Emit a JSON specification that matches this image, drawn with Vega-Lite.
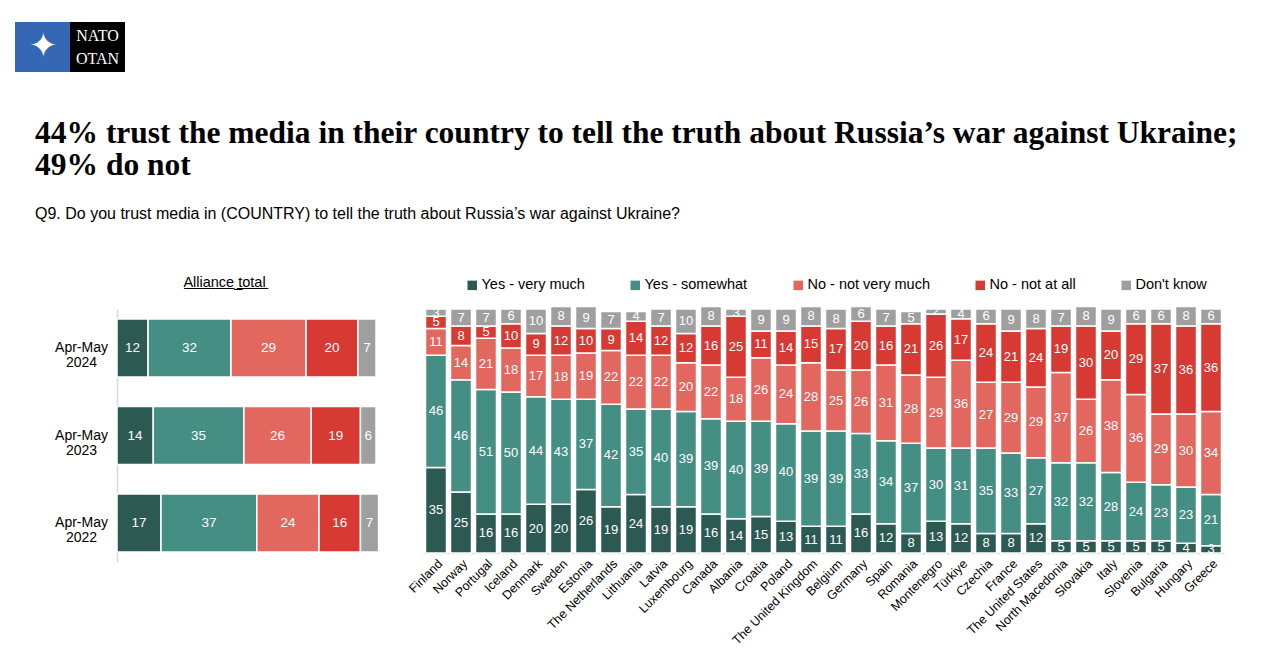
{
  "$schema": "https://vega.github.io/schema/vega-lite/v6.json",
  "background": "white",
  "padding": {"left": 15, "top": 22, "right": 5, "bottom": 5},
  "config": {"view": {"stroke": null}, "font": "Liberation Sans"},
  "datasets": {
    "alliance": [
      {"p": "Apr-May 2024", "r": "Yes - very much", "v": 12},
      {"p": "Apr-May 2024", "r": "Yes - somewhat", "v": 32},
      {"p": "Apr-May 2024", "r": "No - not very much", "v": 29},
      {"p": "Apr-May 2024", "r": "No - not at all", "v": 20},
      {"p": "Apr-May 2024", "r": "Don't know", "v": 7},
      {"p": "Apr-May 2023", "r": "Yes - very much", "v": 14},
      {"p": "Apr-May 2023", "r": "Yes - somewhat", "v": 35},
      {"p": "Apr-May 2023", "r": "No - not very much", "v": 26},
      {"p": "Apr-May 2023", "r": "No - not at all", "v": 19},
      {"p": "Apr-May 2023", "r": "Don't know", "v": 6},
      {"p": "Apr-May 2022", "r": "Yes - very much", "v": 17},
      {"p": "Apr-May 2022", "r": "Yes - somewhat", "v": 37},
      {"p": "Apr-May 2022", "r": "No - not very much", "v": 24},
      {"p": "Apr-May 2022", "r": "No - not at all", "v": 16},
      {"p": "Apr-May 2022", "r": "Don't know", "v": 7}
    ],
    "countries": [
      {"c": "Finland", "r": "Yes - very much", "v": 35}, {"c": "Finland", "r": "Yes - somewhat", "v": 46}, {"c": "Finland", "r": "No - not very much", "v": 11}, {"c": "Finland", "r": "No - not at all", "v": 5}, {"c": "Finland", "r": "Don't know", "v": 3},
      {"c": "Norway", "r": "Yes - very much", "v": 25}, {"c": "Norway", "r": "Yes - somewhat", "v": 46}, {"c": "Norway", "r": "No - not very much", "v": 14}, {"c": "Norway", "r": "No - not at all", "v": 8}, {"c": "Norway", "r": "Don't know", "v": 7},
      {"c": "Portugal", "r": "Yes - very much", "v": 16}, {"c": "Portugal", "r": "Yes - somewhat", "v": 51}, {"c": "Portugal", "r": "No - not very much", "v": 21}, {"c": "Portugal", "r": "No - not at all", "v": 5}, {"c": "Portugal", "r": "Don't know", "v": 7},
      {"c": "Iceland", "r": "Yes - very much", "v": 16}, {"c": "Iceland", "r": "Yes - somewhat", "v": 50}, {"c": "Iceland", "r": "No - not very much", "v": 18}, {"c": "Iceland", "r": "No - not at all", "v": 10}, {"c": "Iceland", "r": "Don't know", "v": 6},
      {"c": "Denmark", "r": "Yes - very much", "v": 20}, {"c": "Denmark", "r": "Yes - somewhat", "v": 44}, {"c": "Denmark", "r": "No - not very much", "v": 17}, {"c": "Denmark", "r": "No - not at all", "v": 9}, {"c": "Denmark", "r": "Don't know", "v": 10},
      {"c": "Sweden", "r": "Yes - very much", "v": 20}, {"c": "Sweden", "r": "Yes - somewhat", "v": 43}, {"c": "Sweden", "r": "No - not very much", "v": 18}, {"c": "Sweden", "r": "No - not at all", "v": 12}, {"c": "Sweden", "r": "Don't know", "v": 8},
      {"c": "Estonia", "r": "Yes - very much", "v": 26}, {"c": "Estonia", "r": "Yes - somewhat", "v": 37}, {"c": "Estonia", "r": "No - not very much", "v": 19}, {"c": "Estonia", "r": "No - not at all", "v": 10}, {"c": "Estonia", "r": "Don't know", "v": 9},
      {"c": "The Netherlands", "r": "Yes - very much", "v": 19}, {"c": "The Netherlands", "r": "Yes - somewhat", "v": 42}, {"c": "The Netherlands", "r": "No - not very much", "v": 22}, {"c": "The Netherlands", "r": "No - not at all", "v": 9}, {"c": "The Netherlands", "r": "Don't know", "v": 7},
      {"c": "Lithuania", "r": "Yes - very much", "v": 24}, {"c": "Lithuania", "r": "Yes - somewhat", "v": 35}, {"c": "Lithuania", "r": "No - not very much", "v": 22}, {"c": "Lithuania", "r": "No - not at all", "v": 14}, {"c": "Lithuania", "r": "Don't know", "v": 4},
      {"c": "Latvia", "r": "Yes - very much", "v": 19}, {"c": "Latvia", "r": "Yes - somewhat", "v": 40}, {"c": "Latvia", "r": "No - not very much", "v": 22}, {"c": "Latvia", "r": "No - not at all", "v": 12}, {"c": "Latvia", "r": "Don't know", "v": 7},
      {"c": "Luxembourg", "r": "Yes - very much", "v": 19}, {"c": "Luxembourg", "r": "Yes - somewhat", "v": 39}, {"c": "Luxembourg", "r": "No - not very much", "v": 20}, {"c": "Luxembourg", "r": "No - not at all", "v": 12}, {"c": "Luxembourg", "r": "Don't know", "v": 10},
      {"c": "Canada", "r": "Yes - very much", "v": 16}, {"c": "Canada", "r": "Yes - somewhat", "v": 39}, {"c": "Canada", "r": "No - not very much", "v": 22}, {"c": "Canada", "r": "No - not at all", "v": 16}, {"c": "Canada", "r": "Don't know", "v": 8},
      {"c": "Albania", "r": "Yes - very much", "v": 14}, {"c": "Albania", "r": "Yes - somewhat", "v": 40}, {"c": "Albania", "r": "No - not very much", "v": 18}, {"c": "Albania", "r": "No - not at all", "v": 25}, {"c": "Albania", "r": "Don't know", "v": 3},
      {"c": "Croatia", "r": "Yes - very much", "v": 15}, {"c": "Croatia", "r": "Yes - somewhat", "v": 39}, {"c": "Croatia", "r": "No - not very much", "v": 26}, {"c": "Croatia", "r": "No - not at all", "v": 11}, {"c": "Croatia", "r": "Don't know", "v": 9},
      {"c": "Poland", "r": "Yes - very much", "v": 13}, {"c": "Poland", "r": "Yes - somewhat", "v": 40}, {"c": "Poland", "r": "No - not very much", "v": 24}, {"c": "Poland", "r": "No - not at all", "v": 14}, {"c": "Poland", "r": "Don't know", "v": 9},
      {"c": "The United Kingdom", "r": "Yes - very much", "v": 11}, {"c": "The United Kingdom", "r": "Yes - somewhat", "v": 39}, {"c": "The United Kingdom", "r": "No - not very much", "v": 28}, {"c": "The United Kingdom", "r": "No - not at all", "v": 15}, {"c": "The United Kingdom", "r": "Don't know", "v": 8},
      {"c": "Belgium", "r": "Yes - very much", "v": 11}, {"c": "Belgium", "r": "Yes - somewhat", "v": 39}, {"c": "Belgium", "r": "No - not very much", "v": 25}, {"c": "Belgium", "r": "No - not at all", "v": 17}, {"c": "Belgium", "r": "Don't know", "v": 8},
      {"c": "Germany", "r": "Yes - very much", "v": 16}, {"c": "Germany", "r": "Yes - somewhat", "v": 33}, {"c": "Germany", "r": "No - not very much", "v": 26}, {"c": "Germany", "r": "No - not at all", "v": 20}, {"c": "Germany", "r": "Don't know", "v": 6},
      {"c": "Spain", "r": "Yes - very much", "v": 12}, {"c": "Spain", "r": "Yes - somewhat", "v": 34}, {"c": "Spain", "r": "No - not very much", "v": 31}, {"c": "Spain", "r": "No - not at all", "v": 16}, {"c": "Spain", "r": "Don't know", "v": 7},
      {"c": "Romania", "r": "Yes - very much", "v": 8}, {"c": "Romania", "r": "Yes - somewhat", "v": 37}, {"c": "Romania", "r": "No - not very much", "v": 28}, {"c": "Romania", "r": "No - not at all", "v": 21}, {"c": "Romania", "r": "Don't know", "v": 5},
      {"c": "Montenegro", "r": "Yes - very much", "v": 13}, {"c": "Montenegro", "r": "Yes - somewhat", "v": 30}, {"c": "Montenegro", "r": "No - not very much", "v": 29}, {"c": "Montenegro", "r": "No - not at all", "v": 26}, {"c": "Montenegro", "r": "Don't know", "v": 2},
      {"c": "Türkiye", "r": "Yes - very much", "v": 12}, {"c": "Türkiye", "r": "Yes - somewhat", "v": 31}, {"c": "Türkiye", "r": "No - not very much", "v": 36}, {"c": "Türkiye", "r": "No - not at all", "v": 17}, {"c": "Türkiye", "r": "Don't know", "v": 4},
      {"c": "Czechia", "r": "Yes - very much", "v": 8}, {"c": "Czechia", "r": "Yes - somewhat", "v": 35}, {"c": "Czechia", "r": "No - not very much", "v": 27}, {"c": "Czechia", "r": "No - not at all", "v": 24}, {"c": "Czechia", "r": "Don't know", "v": 6},
      {"c": "France", "r": "Yes - very much", "v": 8}, {"c": "France", "r": "Yes - somewhat", "v": 33}, {"c": "France", "r": "No - not very much", "v": 29}, {"c": "France", "r": "No - not at all", "v": 21}, {"c": "France", "r": "Don't know", "v": 9},
      {"c": "The United States", "r": "Yes - very much", "v": 12}, {"c": "The United States", "r": "Yes - somewhat", "v": 27}, {"c": "The United States", "r": "No - not very much", "v": 29}, {"c": "The United States", "r": "No - not at all", "v": 24}, {"c": "The United States", "r": "Don't know", "v": 8},
      {"c": "North Macedonia", "r": "Yes - very much", "v": 5}, {"c": "North Macedonia", "r": "Yes - somewhat", "v": 32}, {"c": "North Macedonia", "r": "No - not very much", "v": 37}, {"c": "North Macedonia", "r": "No - not at all", "v": 19}, {"c": "North Macedonia", "r": "Don't know", "v": 7},
      {"c": "Slovakia", "r": "Yes - very much", "v": 5}, {"c": "Slovakia", "r": "Yes - somewhat", "v": 32}, {"c": "Slovakia", "r": "No - not very much", "v": 26}, {"c": "Slovakia", "r": "No - not at all", "v": 30}, {"c": "Slovakia", "r": "Don't know", "v": 8},
      {"c": "Italy", "r": "Yes - very much", "v": 5}, {"c": "Italy", "r": "Yes - somewhat", "v": 28}, {"c": "Italy", "r": "No - not very much", "v": 38}, {"c": "Italy", "r": "No - not at all", "v": 20}, {"c": "Italy", "r": "Don't know", "v": 9},
      {"c": "Slovenia", "r": "Yes - very much", "v": 5}, {"c": "Slovenia", "r": "Yes - somewhat", "v": 24}, {"c": "Slovenia", "r": "No - not very much", "v": 36}, {"c": "Slovenia", "r": "No - not at all", "v": 29}, {"c": "Slovenia", "r": "Don't know", "v": 6},
      {"c": "Bulgaria", "r": "Yes - very much", "v": 5}, {"c": "Bulgaria", "r": "Yes - somewhat", "v": 23}, {"c": "Bulgaria", "r": "No - not very much", "v": 29}, {"c": "Bulgaria", "r": "No - not at all", "v": 37}, {"c": "Bulgaria", "r": "Don't know", "v": 6},
      {"c": "Hungary", "r": "Yes - very much", "v": 4}, {"c": "Hungary", "r": "Yes - somewhat", "v": 23}, {"c": "Hungary", "r": "No - not very much", "v": 30}, {"c": "Hungary", "r": "No - not at all", "v": 36}, {"c": "Hungary", "r": "Don't know", "v": 8},
      {"c": "Greece", "r": "Yes - very much", "v": 3}, {"c": "Greece", "r": "Yes - somewhat", "v": 21}, {"c": "Greece", "r": "No - not very much", "v": 34}, {"c": "Greece", "r": "No - not at all", "v": 36}, {"c": "Greece", "r": "Don't know", "v": 6}
    ]
  },
  "spacing": 46,
  "vconcat": [
    {
      "width": 110,
      "height": 50,
      "data": {"values": [{"part": "emblem"}, {"part": "name"}]},
      "encoding": {
        "x": {"field": "part", "type": "nominal", "sort": null, "axis": null, "scale": {"paddingInner": 0, "paddingOuter": 0}}
      },
      "layer": [
        {"transform": [{"filter": "datum.part === 'emblem'"}], "mark": {"type": "rect", "color": "#3567B5"}},
        {"transform": [{"filter": "datum.part === 'name'"}], "mark": {"type": "rect", "color": "#000000"}},
        {"transform": [{"filter": "datum.part === 'emblem'"}], "mark": {"type": "text", "text": "✦", "fontSize": 34, "color": "white", "baseline": "middle"}},
        {"transform": [{"filter": "datum.part === 'name'"}], "mark": {"type": "text", "text": "NATO", "font": "Liberation Serif", "fontSize": 16, "color": "white", "dy": -11, "baseline": "middle"}},
        {"transform": [{"filter": "datum.part === 'name'"}], "mark": {"type": "text", "text": "OTAN", "font": "Liberation Serif", "fontSize": 16, "color": "white", "dy": 12, "baseline": "middle"}}
      ]
    },
    {
      "title": {
        "text": ["44% trust the media in their country to tell the truth about Russia’s war against Ukraine;", "49% do not"],
        "subtitle": "Q9. Do you trust media in (COUNTRY) to tell the truth about Russia’s war against Ukraine?",
        "font": "Liberation Serif",
        "fontSize": 31.5,
        "fontWeight": "bold",
        "color": "#000000",
        "lineHeight": 32,
        "subtitleFont": "Liberation Sans",
        "subtitleFontSize": 16,
        "subtitleColor": "#000000",
        "subtitlePadding": 24,
        "anchor": "start",
        "frame": "bounds",
        "dx": 20,
        "offset": 53
      },
      "spacing": 26,
      "resolve": {"scale": {"color": "independent"}},
      "hconcat": [
        {
          "width": 13,
          "height": 10,
          "data": {"values": [{"s": 1}]},
          "mark": {"type": "rect", "opacity": 0},
          "encoding": {}
        },
        {
          "width": 259,
          "height": 253,
          "title": {"text": "A̲l̲l̲i̲a̲n̲c̲e̲ ̲t̲o̲t̲a̲l̲", "font": "Liberation Sans", "fontSize": 14.5, "fontWeight": "normal", "color": "#000000", "anchor": "middle", "offset": 19, "dx": -22},
          "data": {"name": "alliance"},
          "encoding": {
            "y": {
              "field": "p", "type": "nominal", "sort": ["Apr-May 2024", "Apr-May 2023", "Apr-May 2022"],
              "scale": {"paddingInner": 0.337, "paddingOuter": 0.114},
              "axis": {"title": null, "domainColor": "#D9D9D9", "domainWidth": 1.5, "ticks": false, "labelFontSize": 14, "labelColor": "#000000", "labelAlign": "center", "labelPadding": 36, "labelBaseline": "middle", "labelLineHeight": 15, "labelExpr": "split(datum.label, ' ')"}
            },
            "x": {"field": "v", "type": "quantitative", "stack": "zero", "scale": {"domain": [0, 100], "nice": false}, "axis": null},
            "order": {"field": "r", "sort": "descending"}
          },
          "layer": [
            {
              "mark": {"type": "bar", "stroke": "white", "strokeWidth": 1.5},
              "encoding": {
                "color": {"field": "r", "type": "nominal", "legend": null, "scale": {"domain": ["Yes - very much", "Yes - somewhat", "No - not very much", "No - not at all", "Don't know"], "range": ["#2C5A52", "#458E83", "#E2675F", "#D63A32", "#9F9F9F"]}}
              }
            },
            {
              "mark": {"type": "text", "color": "white", "fontSize": 13.5, "baseline": "middle"},
              "encoding": {
                "x": {"field": "v", "type": "quantitative", "stack": "zero", "bandPosition": 0.5},
                "detail": {"field": "r"},
                "text": {"field": "v", "type": "quantitative"}
              }
            }
          ]
        },
        {
          "width": 801,
          "height": 244,
          "data": {"name": "countries"},
          "encoding": {
            "x": {
              "field": "c", "type": "nominal", "sort": null,
              "scale": {"paddingInner": 0.16, "paddingOuter": 0.1},
              "axis": {"title": null, "labelAngle": -45, "labelFontSize": 12.5, "labelColor": "#000000", "ticks": false, "domainColor": "#D9D9D9", "domainWidth": 1.5, "labelPadding": 4}
            },
            "y": {"field": "v", "type": "quantitative", "stack": "zero", "scale": {"domain": [0, 100], "nice": false}, "axis": null},
            "order": {"field": "r", "sort": "descending"}
          },
          "layer": [
            {
              "mark": {"type": "bar", "stroke": "white", "strokeWidth": 1.5},
              "encoding": {
                "color": {
                  "field": "r", "type": "nominal",
                  "scale": {"domain": ["Yes - very much", "Yes - somewhat", "No - not very much", "No - not at all", "Don't know"], "range": ["#2C5A52", "#458E83", "#E2675F", "#D63A32", "#9F9F9F"]},
                  "legend": {"title": null, "orient": "none", "legendX": 42, "legendY": -31, "direction": "horizontal", "symbolType": "square", "symbolSize": 90, "symbolStrokeWidth": 0, "labelFontSize": 14.5, "labelColor": "#000000", "columnPadding": 43, "labelOffset": 2}
                }
              }
            },
            {
              "mark": {"type": "text", "color": "white", "fontSize": 13, "baseline": "middle"},
              "encoding": {
                "y": {"field": "v", "type": "quantitative", "stack": "zero", "bandPosition": 0.5},
                "detail": {"field": "r"},
                "text": {"field": "v", "type": "quantitative"}
              }
            }
          ]
        }
      ]
    }
  ]
}
